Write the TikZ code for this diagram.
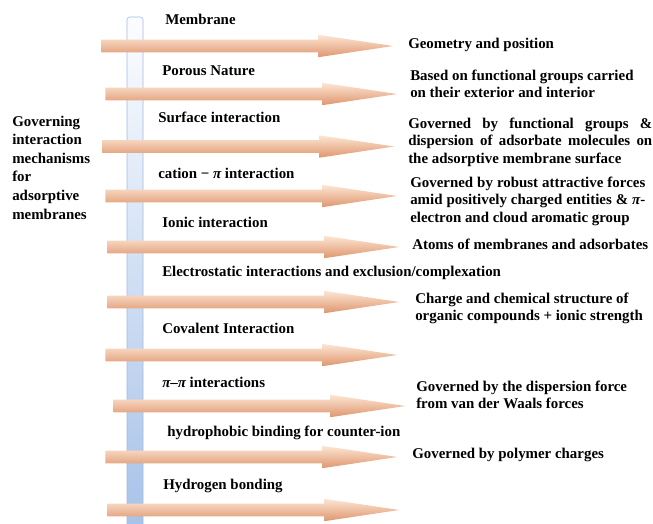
\documentclass[tikz,border=0pt]{standalone}
\usepackage{fontspec}
\setmainfont{Liberation Serif}
\usetikzlibrary{shapes.arrows}

\definecolor{arrowTop}{RGB}{253,230,212}
\definecolor{arrowMid}{RGB}{248,200,172}
\definecolor{arrowBot}{RGB}{222,150,110}
\definecolor{barTop}{RGB}{252,253,255}
\definecolor{barBot}{RGB}{166,193,232}
\definecolor{barLine}{RGB}{160,186,226}

\tikzset{
  flowarrow/.style={single arrow, draw=none, top color=arrowTop, middle color=arrowMid,
    bottom color=arrowBot, minimum height=7.3cm, inner xsep=0pt, inner ysep=4.25pt,
    single arrow head extend=3.55pt, single arrow tip angle=17, anchor=tail},
  lbl/.style={anchor=base west, inner sep=0pt, font=\fontsize{10.6}{12.6}\selectfont\bfseries},
  desc/.style={anchor=north west, inner sep=0pt, align=left,
    font=\fontsize{10.6}{12.6}\selectfont\bfseries}
}

\begin{document}
\begin{tikzpicture}

\useasboundingbox (0,0) rectangle (16.325,13.1);

% membrane bar
\draw[barLine, top color=barTop, bottom color=barBot, rounded corners=2pt] (3.175,-0.3) rectangle (3.575,12.675);

\node[desc, align=left, font=\fontsize{10.6}{13.2}\selectfont\bfseries] (lblGov) at (0.3,10.21)
  {Governing\\interaction\\mechanisms\\for\\adsorptive\\membranes};

% arrows
\node[flowarrow] (arrMem) at (2.525,11.95) {};
\node[flowarrow] (arrPor) at (2.625,10.75) {};
\node[flowarrow] (arrSur) at (2.55,9.4375) {};
\node[flowarrow] (arrCat) at (2.625,8.2) {};
\node[flowarrow] (arrIon) at (2.675,6.925) {};
\node[flowarrow] (arrEle) at (2.675,5.55) {};
\node[flowarrow] (arrCov) at (2.625,4.225) {};
\node[flowarrow] (arrPiPi) at (2.825,2.95) {};
\node[flowarrow] (arrHyd) at (2.625,1.675) {};
\node[flowarrow] (arrHyb) at (2.675,0.35) {};

% mechanism labels
\node[lbl] (lblMem) at (4.125,12.475) {Membrane};
\node[lbl] (lblPor) at (4.05,11.2) {Porous Nature};
\node[lbl] (lblSur) at (3.95,10.025) {Surface interaction};
\node[lbl] (lblCat) at (3.95,8.625) {cation − {\itshape π} interaction};
\node[lbl] (lblIon) at (4.05,7.4) {Ionic interaction};
\node[lbl] (lblEle) at (4.05,6.175) {Electrostatic interactions and exclusion/complexation};
\node[lbl] (lblCov) at (4.05,4.75) {Covalent Interaction};
\node[lbl] (lblPiPi) at (4.05,3.4) {{\itshape π}--{\itshape π} interactions};
\node[lbl] (lblHyd) at (4.175,2.175) {hydrophobic binding for counter-ion};
\node[lbl] (lblHyb) at (4.075,0.85) {Hydrogen bonding};

% descriptions
\node[desc] (rGeo) at (10.2,12.165) {Geometry and position};
\node[desc] (rPor) at (10.25,11.365) {Based on functional groups carried\\on their exterior and interior};
\node[desc, text width=6.1cm, align=justify] (rSur) at (10.2,10.165)
  {Governed by functional groups \&\linebreak dispersion of adsorbate molecules on\linebreak the adsorptive membrane surface};
\node[desc, text width=5.875cm, align=justify] (rCat) at (10.25,8.69)
  {Governed by robust attractive forces\linebreak amid positively charged entities \& {\itshape π}-\linebreak electron and cloud aromatic group};
\node[desc] (rIon) at (10.3,7.14) {Atoms of membranes and adsorbates};
\node[desc] (rEle) at (10.375,5.79) {Charge and chemical structure of\\organic compounds + ionic strength};
\node[desc] (rPiPi) at (10.4,3.59) {Governed by the dispersion force\\from van der Waals forces};
\node[desc] (rHyd) at (10.3,1.915) {Governed by polymer charges};

\end{tikzpicture}
\end{document}
